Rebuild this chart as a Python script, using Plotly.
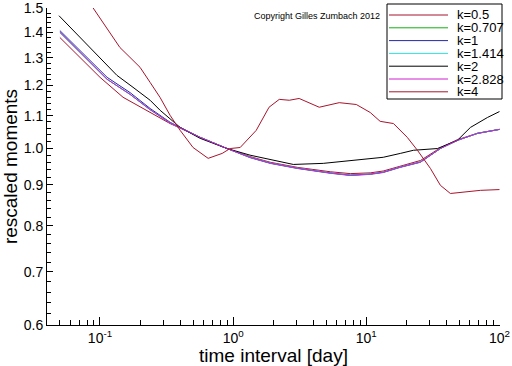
import plotly.graph_objects as go
import math

# ---- data ----
names = ["k=0.5", "k=0.707", "k=1", "k=1.414", "k=2", "k=2.828", "k=4"]
colors = ["#a8142c", "#10b010", "#2828a8", "#30e0e0", "#000000", "#d020d0", "#a8142c"]

x_k05 = [0.05, 0.1, 0.149, 0.211, 0.336, 0.565, 0.9, 1.34, 1.9, 3.03, 5.36, 7.58, 10.7, 13.4, 18.0, 25.5, 36.0, 48.3, 68.4, 100]
y_k05 = [1.379, 1.229, 1.160, 1.123, 1.075, 1.033, 1.0, 0.977, 0.961, 0.947, 0.935, 0.930, 0.932, 0.937, 0.951, 0.966, 1.002, 1.026, 1.045, 1.057]

x_k0707 = [0.05, 0.084, 0.113, 0.168, 0.238, 0.336, 0.565, 0.9, 1.34, 1.9, 3.03, 5.36, 7.58, 10.7, 13.4, 18.0, 25.5, 36.0, 48.3, 68.4, 100]
y_k0707 = [1.400, 1.284, 1.222, 1.170, 1.119, 1.077, 1.033, 1.0, 0.975, 0.959, 0.945, 0.932, 0.926, 0.929, 0.934, 0.948, 0.962, 1.0, 1.024, 1.045, 1.057]

x_k1 = [0.05, 0.084, 0.113, 0.168, 0.238, 0.336, 0.565, 0.9, 1.34, 1.9, 3.03, 5.36, 7.58, 10.7, 13.4, 18.0, 25.5, 36.0, 48.3, 68.4, 100]
y_k1 = [1.407, 1.291, 1.229, 1.176, 1.123, 1.079, 1.033, 1.0, 0.974, 0.958, 0.944, 0.931, 0.925, 0.928, 0.933, 0.947, 0.961, 1.0, 1.024, 1.045, 1.057]

x_k1414 = [0.05, 0.084, 0.113, 0.168, 0.238, 0.336, 0.565, 0.9, 1.34, 1.9, 3.03, 5.36, 7.58, 10.7, 13.4, 18.0, 25.5, 36.0, 48.3, 68.4, 100]
y_k1414 = [1.400, 1.284, 1.222, 1.170, 1.119, 1.077, 1.033, 1.0, 0.975, 0.959, 0.945, 0.932, 0.926, 0.929, 0.934, 0.948, 0.962, 1.0, 1.024, 1.045, 1.057]

x_k2 = [0.0492, 0.0886, 0.134, 0.177, 0.238, 0.283, 0.40, 0.565, 0.9, 1.34, 2.83, 4.75, 7.2, 13.4, 18.0, 22.6, 34.2, 48.3, 60.5, 81.2, 100]
y_k2 = [1.469, 1.328, 1.236, 1.194, 1.150, 1.117, 1.063, 1.030, 1.0, 0.981, 0.955, 0.958, 0.964, 0.975, 0.986, 0.995, 1.0, 1.024, 1.063, 1.094, 1.113]

x_k2828 = [0.05, 0.084, 0.113, 0.168, 0.238, 0.336, 0.565, 0.9, 1.34, 1.9, 3.03, 5.36, 7.58, 10.7, 13.4, 18.0, 25.5, 36.0, 48.3, 68.4, 100]
y_k2828 = [1.400, 1.284, 1.222, 1.170, 1.119, 1.077, 1.033, 1.0, 0.975, 0.959, 0.945, 0.932, 0.926, 0.929, 0.934, 0.948, 0.962, 1.0, 1.024, 1.045, 1.057]

x_k4 = [0.049, 0.0886, 0.141, 0.168, 0.2, 0.238, 0.283, 0.336, 0.40, 0.50, 0.649, 0.827, 0.949, 1.129, 1.49, 1.86, 2.22, 2.64, 3.13, 4.43, 6.26, 8.41, 10.7, 12.7, 16.0, 20.3, 24.2, 30.3, 36.0, 42.8, 53.6, 71.9, 100]
y_k4 = [1.74, 1.505, 1.340, 1.302, 1.265, 1.211, 1.159, 1.101, 1.054, 1.003, 0.972, 0.986, 1.0, 1.003, 1.054, 1.127, 1.153, 1.150, 1.156, 1.127, 1.142, 1.136, 1.110, 1.082, 1.075, 1.033, 0.995, 0.944, 0.899, 0.878, 0.882, 0.886, 0.888]

xs = [x_k05, x_k0707, x_k1, x_k1414, x_k2, x_k2828, x_k4]
ys = [y_k05, y_k0707, y_k1, y_k1414, y_k2, y_k2828, y_k4]

y_ticks = [0.6, 0.7, 0.8, 0.9, 1.0, 1.1, 1.2, 1.3, 1.4, 1.5]
y_ticktext = ["0.6", "0.7", "0.8", "0.9", "1.0", "1.1", "1.2", "1.3", "1.4", "1.5"]
x_ticks = [0.1, 1, 10, 100]
x_ticktext = ["10<sup>-1</sup>", "10<sup>0</sup>", "10<sup>1</sup>", "10<sup>2</sup>"]

FONT = "Liberation Sans, Arial, sans-serif"

fig = go.Figure()
for n, c, x, y in zip(names, colors, xs, ys):
    fig.add_trace(go.Scatter(x=x, y=y, mode="lines", name=n,
                             line=dict(color=c, width=1), showlegend=False))

y_minor = [round(0.6 + 0.02 * i, 2) for i in range(46)]
y_minor = [v for v in y_minor if round(v * 10, 6) != round(v * 10)]
x_minor = [m * d for d in (0.01, 0.1, 1, 10) for m in range(2, 10)]
x_minor = [v for v in x_minor if 0.045 < v < 100]

fig.update_layout(
    width=512, height=366,
    margin=dict(l=47, r=12, t=8, b=41, autoexpand=False),
    paper_bgcolor="white", plot_bgcolor="white",
    font=dict(family=FONT, size=14, color="black"),
    showlegend=False,
)
fig.update_xaxes(
    type="log", range=[math.log10(0.04), 2.004],
    showgrid=False, zeroline=False,
    showline=True, linecolor="black", linewidth=1,
    ticks="inside", ticklen=8, tickcolor="black",
    tickmode="array", tickvals=x_ticks, ticktext=x_ticktext,
    tickfont=dict(size=14),
    minor=dict(tickmode="array", tickvals=x_minor, ticks="inside", ticklen=5, tickcolor="black", showgrid=False),
    title=dict(text="time interval [day]", font=dict(size=19), standoff=2),
)
fig.update_yaxes(
    type="log", range=[math.log10(0.6), math.log10(1.5) + 0.0006],
    showgrid=False, zeroline=False,
    showline=True, linecolor="black", linewidth=1,
    ticks="inside", ticklen=6, tickcolor="black",
    tickmode="array", tickvals=y_ticks, ticktext=y_ticktext,
    tickfont=dict(size=14),
    minor=dict(tickmode="array", tickvals=y_minor, ticks="inside", ticklen=4, tickcolor="black", showgrid=False),
    title=dict(text="rescaled moments", font=dict(size=19), standoff=4),
)

# copyright
fig.add_annotation(text="Copyright Gilles Zumbach 2012", xref="paper", yref="paper",
                   x=0.596, y=0.975, showarrow=False, font=dict(size=9, color="black"),
                   xanchor="center", yanchor="middle")

# manual legend (compact, as in the reference)
pw, ph = 453.0, 317.0
def px2x(px):
    return (px - 47) / pw
def py2y(py):
    return (325 - py) / ph

fig.add_shape(type="rect", xref="paper", yref="paper",
              x0=px2x(387), x1=px2x(502), y0=py2y(99), y1=py2y(4),
              line=dict(color="black", width=1), fillcolor="white", layer="above")
for i, (n, c) in enumerate(zip(names, colors)):
    yy = py2y(15 + 12.8 * i)
    fig.add_shape(type="line", xref="paper", yref="paper",
                  x0=px2x(389), x1=px2x(448), y0=yy, y1=yy,
                  line=dict(color=c, width=1), layer="above")
    fig.add_annotation(text=n, xref="paper", yref="paper", x=px2x(455), y=yy,
                       showarrow=False, xanchor="left", yanchor="middle",
                       font=dict(size=13, color="black"))

fig.write_html("out.html",
               config={"displayModeBar": False},
               post_script="document.body.style.margin='0';document.body.style.padding='0';")
